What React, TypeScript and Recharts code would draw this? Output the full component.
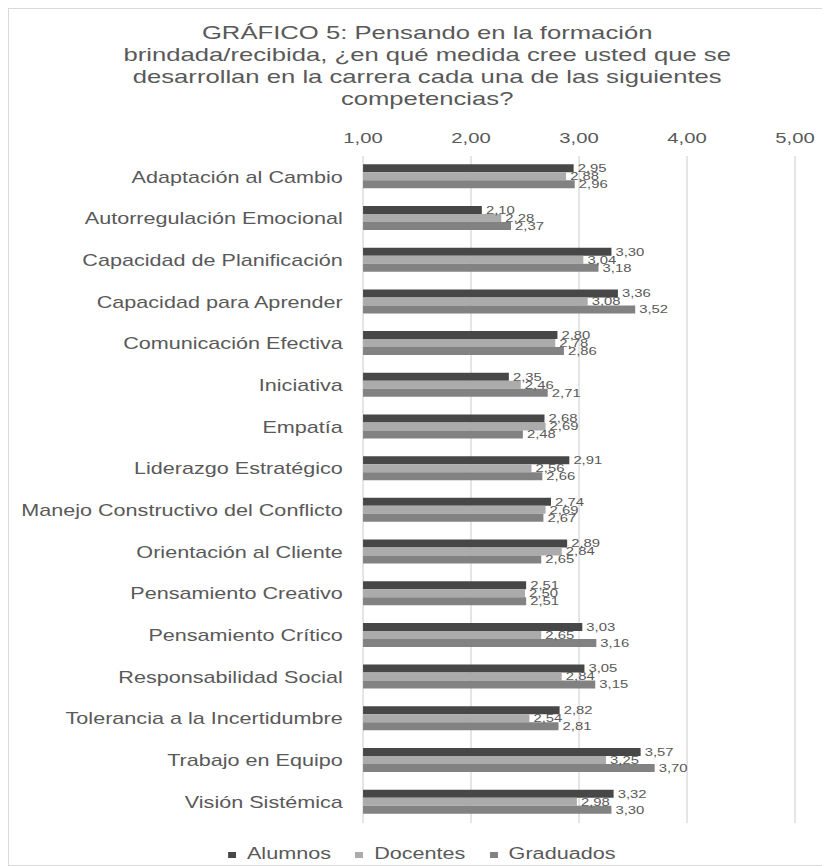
import React from "react";
import { BarChart, Bar, XAxis, YAxis, CartesianGrid, Legend, LabelList } from "recharts";

const competencias = [
  "Adaptación al Cambio",
  "Autorregulación Emocional",
  "Capacidad de Planificación",
  "Capacidad para Aprender",
  "Comunicación Efectiva",
  "Iniciativa",
  "Empatía",
  "Liderazgo Estratégico",
  "Manejo Constructivo del Conflicto",
  "Orientación al Cliente",
  "Pensamiento Creativo",
  "Pensamiento Crítico",
  "Responsabilidad Social",
  "Tolerancia a la Incertidumbre",
  "Trabajo en Equipo",
  "Visión Sistémica",
];
const alumnos = [2.95, 2.1, 3.3, 3.36, 2.8, 2.35, 2.68, 2.91, 2.74, 2.89, 2.51, 3.03, 3.05, 2.82, 3.57, 3.32];
const docentes = [2.88, 2.28, 3.04, 3.08, 2.78, 2.46, 2.69, 2.56, 2.69, 2.84, 2.5, 2.65, 2.84, 2.54, 3.25, 2.98];
const graduados = [2.96, 2.37, 3.18, 3.52, 2.86, 2.71, 2.48, 2.66, 2.67, 2.65, 2.51, 3.16, 3.15, 2.81, 3.7, 3.3];
const ejeTicks = [1, 2, 3, 4, 5];
const tituloLineas = [
  "GRÁFICO 5: Pensando en la formación",
  "brindada/recibida, ¿en qué medida cree usted que se",
  "desarrollan en la carrera cada una de las siguientes",
  "competencias?",
];

// the original picture is stretched sideways, so the chart is drawn narrower and scaled
const STRETCH = 1.35;
const W = 609;
const H = 858;
const GRIS = "#595959";

const fmt = (v: number) => Number(v).toFixed(2).replace(".", ",");

const data = competencias.map((name, i) => ({
  name,
  Alumnos: alumnos[i],
  Docentes: docentes[i],
  Graduados: graduados[i],
}));

const series = [
  { key: "Alumnos", color: "#474747" },
  { key: "Docentes", color: "#ababab" },
  { key: "Graduados", color: "#828282" },
];

export default function App() {
  return (
    <div
      style={{
        width: 822,
        height: H,
        boxSizing: "border-box",
        border: "1px solid #d9d9d9",
        overflow: "hidden",
        fontFamily: '"Liberation Sans", Arial, sans-serif',
        background: "#fff",
      }}
    >
      <div
        style={{
          position: "relative",
          width: W,
          height: H,
          transform: `scaleX(${STRETCH})`,
          transformOrigin: "0 0",
          marginTop: -1,
          marginLeft: -1,
        }}
      >
        <div
          style={{
            position: "absolute",
            top: 14,
            left: 0,
            width: W,
            paddingLeft: 12,
            boxSizing: "border-box",
            textAlign: "center",
            fontSize: 19,
            lineHeight: "22px",
            color: GRIS,
          }}
        >
          {tituloLineas.map((l) => (
            <div key={l}>{l}</div>
          ))}
        </div>
        <BarChart
          width={W}
          height={H}
          data={data}
          layout="vertical"
          margin={{ top: 118, right: 26, left: 0, bottom: 25 }}
          barCategoryGap="20%"
          barGap={0}
        >
          <CartesianGrid horizontal={false} stroke="#d9d9d9" />
          <XAxis
            type="number"
            orientation="top"
            domain={[1, 5]}
            ticks={ejeTicks}
            tickFormatter={fmt}
            axisLine={false}
            tickLine={false}
            tickSize={0}
            tickMargin={13}
            height={30}
            tick={{ fill: GRIS, fontSize: 15 }}
          />
          <YAxis
            type="category"
            dataKey="name"
            width={263}
            interval={0}
            axisLine={false}
            tickLine={false}
            tickSize={0}
            tickMargin={15}
            tick={{ fill: GRIS, fontSize: 16 }}
          />
          <Legend
            verticalAlign="bottom"
            iconType="square"
            iconSize={6}
            wrapperStyle={{ top: 837, left: 24, fontSize: 16 }}
            formatter={(v: string) => (
              <span style={{ color: GRIS, marginLeft: 4, marginRight: 8 }}>{v}</span>
            )}
          />
          {series.map((s) => (
            <Bar key={s.key} dataKey={s.key} fill={s.color} isAnimationActive={false}>
              <LabelList
                dataKey={s.key}
                position="right"
                offset={3}
                formatter={fmt}
                style={{ fill: GRIS, fontSize: 11 }}
              />
            </Bar>
          ))}
        </BarChart>
      </div>
    </div>
  );
}
